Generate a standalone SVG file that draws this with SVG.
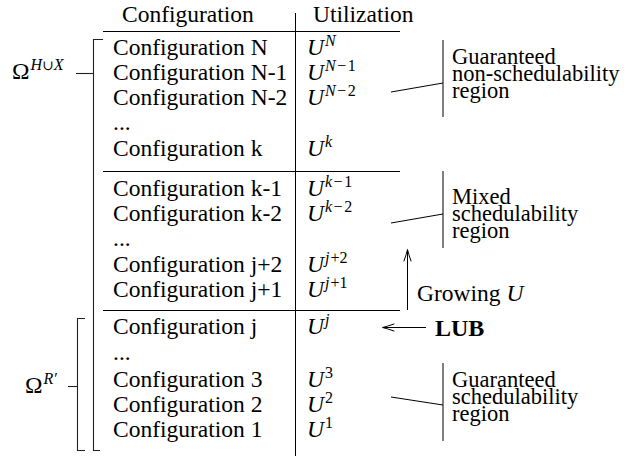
<svg xmlns="http://www.w3.org/2000/svg" width="631" height="456" viewBox="0 0 631 456">
  <style>
    .ln { stroke: #000; stroke-width: 1; fill: none; }
    .br { stroke: #222; stroke-width: 1.1; fill: none; }
    .head { stroke: #000; stroke-width: 1; fill: none; stroke-linecap: round; }
  </style>

  <!-- table rules -->
  <g id="rules">
    <line class="ln" x1="295.5" y1="13" x2="295.5" y2="456"/>
    <line class="ln" x1="103" y1="31.5" x2="400" y2="31.5"/>
    <line class="ln" x1="103" y1="171.5" x2="400" y2="171.5"/>
    <line class="ln" x1="103" y1="310.5" x2="400" y2="310.5"/>
  </g>

  <!-- column headers -->
  <g id="header">
    <text style="font-family:'Liberation Serif',serif;font-size:23.5px" x="122" y="22">Configuration</text>
    <text style="font-family:'Liberation Serif',serif;font-size:23.5px" x="313" y="22">Utilization</text>
  </g>

  <!-- configuration rows -->
  <g id="row-N">
    <text style="font-family:'Liberation Serif',serif;font-size:23.5px" x="113" y="55">Configuration N</text>
    <text style="font-family:'Liberation Serif',serif;font-size:23.5px;font-style:italic" x="307" y="55">U<tspan style="font-size:16px" dx="1" dy="-9">N</tspan></text>
  </g>
  <g id="row-N-1">
    <text style="font-family:'Liberation Serif',serif;font-size:23.5px" x="113" y="80">Configuration N-1</text>
    <text style="font-family:'Liberation Serif',serif;font-size:23.5px;font-style:italic" x="307" y="80">U<tspan style="font-size:16px" dx="1" dy="-9">N</tspan><tspan style="font-size:16px;font-style:normal" dx="1.5">−</tspan><tspan style="font-size:16px;font-style:normal" dx="1.5">1</tspan></text>
  </g>
  <g id="row-N-2">
    <text style="font-family:'Liberation Serif',serif;font-size:23.5px" x="113" y="105">Configuration N-2</text>
    <text style="font-family:'Liberation Serif',serif;font-size:23.5px;font-style:italic" x="307" y="105">U<tspan style="font-size:16px" dx="1" dy="-9">N</tspan><tspan style="font-size:16px;font-style:normal" dx="1.5">−</tspan><tspan style="font-size:16px;font-style:normal" dx="1.5">2</tspan></text>
  </g>
  <g id="row-dots-1">
    <text style="font-family:'Liberation Serif',serif;font-size:23.5px" x="113" y="130">...</text>
  </g>
  <g id="row-k">
    <text style="font-family:'Liberation Serif',serif;font-size:23.5px" x="113" y="156">Configuration k</text>
    <text style="font-family:'Liberation Serif',serif;font-size:23.5px;font-style:italic" x="307" y="156">U<tspan style="font-size:16px" dx="1" dy="-9">k</tspan></text>
  </g>
  <g id="row-k-1">
    <text style="font-family:'Liberation Serif',serif;font-size:23.5px" x="113" y="196">Configuration k-1</text>
    <text style="font-family:'Liberation Serif',serif;font-size:23.5px;font-style:italic" x="307" y="196">U<tspan style="font-size:16px" dx="1" dy="-9">k</tspan><tspan style="font-size:16px;font-style:normal" dx="1.5">−</tspan><tspan style="font-size:16px;font-style:normal" dx="1.5">1</tspan></text>
  </g>
  <g id="row-k-2">
    <text style="font-family:'Liberation Serif',serif;font-size:23.5px" x="113" y="221">Configuration k-2</text>
    <text style="font-family:'Liberation Serif',serif;font-size:23.5px;font-style:italic" x="307" y="221">U<tspan style="font-size:16px" dx="1" dy="-9">k</tspan><tspan style="font-size:16px;font-style:normal" dx="1.5">−</tspan><tspan style="font-size:16px;font-style:normal" dx="1.5">2</tspan></text>
  </g>
  <g id="row-dots-2">
    <text style="font-family:'Liberation Serif',serif;font-size:23.5px" x="113" y="246">...</text>
  </g>
  <g id="row-j2">
    <text style="font-family:'Liberation Serif',serif;font-size:23.5px" x="113" y="272">Configuration j+2</text>
    <text style="font-family:'Liberation Serif',serif;font-size:23.5px;font-style:italic" x="307" y="272">U<tspan style="font-size:16px" dx="1" dy="-9">j</tspan><tspan style="font-size:16px;font-style:normal" dx="1">+2</tspan></text>
  </g>
  <g id="row-j1">
    <text style="font-family:'Liberation Serif',serif;font-size:23.5px" x="113" y="297">Configuration j+1</text>
    <text style="font-family:'Liberation Serif',serif;font-size:23.5px;font-style:italic" x="307" y="297">U<tspan style="font-size:16px" dx="1" dy="-9">j</tspan><tspan style="font-size:16px;font-style:normal" dx="1">+1</tspan></text>
  </g>
  <g id="row-j">
    <text style="font-family:'Liberation Serif',serif;font-size:23.5px" x="113" y="334">Configuration j</text>
    <text style="font-family:'Liberation Serif',serif;font-size:23.5px;font-style:italic" x="307" y="334">U<tspan style="font-size:16px" dx="1" dy="-9">j</tspan></text>
  </g>
  <g id="row-dots-3">
    <text style="font-family:'Liberation Serif',serif;font-size:23.5px" x="113" y="360">...</text>
  </g>
  <g id="row-3">
    <text style="font-family:'Liberation Serif',serif;font-size:23.5px" x="113" y="387">Configuration 3</text>
    <text style="font-family:'Liberation Serif',serif;font-size:23.5px;font-style:italic" x="307" y="387">U<tspan style="font-size:16px;font-style:normal" dx="1" dy="-9">3</tspan></text>
  </g>
  <g id="row-2">
    <text style="font-family:'Liberation Serif',serif;font-size:23.5px" x="113" y="412">Configuration 2</text>
    <text style="font-family:'Liberation Serif',serif;font-size:23.5px;font-style:italic" x="307" y="412">U<tspan style="font-size:16px;font-style:normal" dx="1" dy="-9">2</tspan></text>
  </g>
  <g id="row-1">
    <text style="font-family:'Liberation Serif',serif;font-size:23.5px" x="113" y="437">Configuration 1</text>
    <text style="font-family:'Liberation Serif',serif;font-size:23.5px;font-style:italic" x="307" y="437">U<tspan style="font-size:16px;font-style:normal" dx="1" dy="-9">1</tspan></text>
  </g>

  <!-- set brackets on the left -->
  <g id="set-HX">
    <path class="br" d="M103 39.5 H93.5 V450.5 H100"/>
    <line class="br" x1="76" y1="73.5" x2="93.5" y2="73.5"/>
    <text style="font-family:'Liberation Serif',serif;font-size:23.5px" x="12" y="79">Ω<tspan style="font-size:16px;font-style:italic" dx="1" dy="-9">H</tspan><tspan style="font-family:'DejaVu Serif',serif;font-size:14px">∪</tspan><tspan style="font-size:16px;font-style:italic">X</tspan></text>
  </g>
  <g id="set-R">
    <path class="br" d="M85 318.5 H77.5 V450.5 H85"/>
    <line class="br" x1="68" y1="386.5" x2="77.5" y2="386.5"/>
    <text style="font-family:'Liberation Serif',serif;font-size:23.5px" x="25" y="393">Ω<tspan style="font-size:16px;font-style:italic" dx="1" dy="-9">R′</tspan></text>
  </g>

  <!-- region annotations -->
  <g id="region-nonsched">
    <line class="ln" x1="443" y1="40" x2="443" y2="117"/>
    <text style="font-family:'Liberation Serif',serif;font-size:22.5px" x="452" y="64">Guaranteed</text>
    <text style="font-family:'Liberation Serif',serif;font-size:22.5px" x="452" y="81">non-schedulability</text>
    <text style="font-family:'Liberation Serif',serif;font-size:22.5px" x="452" y="98">region</text>
  </g>
  <g id="region-mixed">
    <line class="ln" x1="443" y1="171" x2="443" y2="248"/>
    <text style="font-family:'Liberation Serif',serif;font-size:22.5px" x="452" y="204">Mixed</text>
    <text style="font-family:'Liberation Serif',serif;font-size:22.5px" x="452" y="221">schedulability</text>
    <text style="font-family:'Liberation Serif',serif;font-size:22.5px" x="452" y="238">region</text>
  </g>
  <g id="region-sched">
    <line class="ln" x1="443" y1="363" x2="443" y2="441"/>
    <text style="font-family:'Liberation Serif',serif;font-size:22.5px" x="452" y="387">Guaranteed</text>
    <text style="font-family:'Liberation Serif',serif;font-size:22.5px" x="452" y="404">schedulability</text>
    <text style="font-family:'Liberation Serif',serif;font-size:22.5px" x="452" y="421">region</text>
  </g>
  <g id="growing">
    <text style="font-family:'Liberation Serif',serif;font-size:23.5px" x="417" y="301">Growing <tspan style="font-style:italic">U</tspan></text>
  </g>
  <g id="lub">
    <text style="font-family:'Liberation Serif',serif;font-size:24px;font-weight:bold" x="435" y="336">LUB</text>
  </g>

  <!-- connectors -->
  <g id="connectors">
    <line class="ln" x1="391" y1="92" x2="443" y2="83"/>
    <line class="ln" x1="391" y1="223" x2="443" y2="214"/>
    <line class="ln" x1="391" y1="397" x2="443" y2="405"/>
    <!-- growing-U arrow -->
    <line class="ln" x1="407.5" y1="310" x2="407.5" y2="250"/>
    <path class="head" d="M404 261 Q406.5 254 407.5 249.5 Q408.5 254 411 261"/>
    <!-- LUB arrow -->
    <line class="ln" x1="426" y1="327.5" x2="383" y2="327.5"/>
    <path class="head" d="M394 324 Q387 326.5 382.5 327.5 Q387 328.5 394 331"/>
  </g>
</svg>
